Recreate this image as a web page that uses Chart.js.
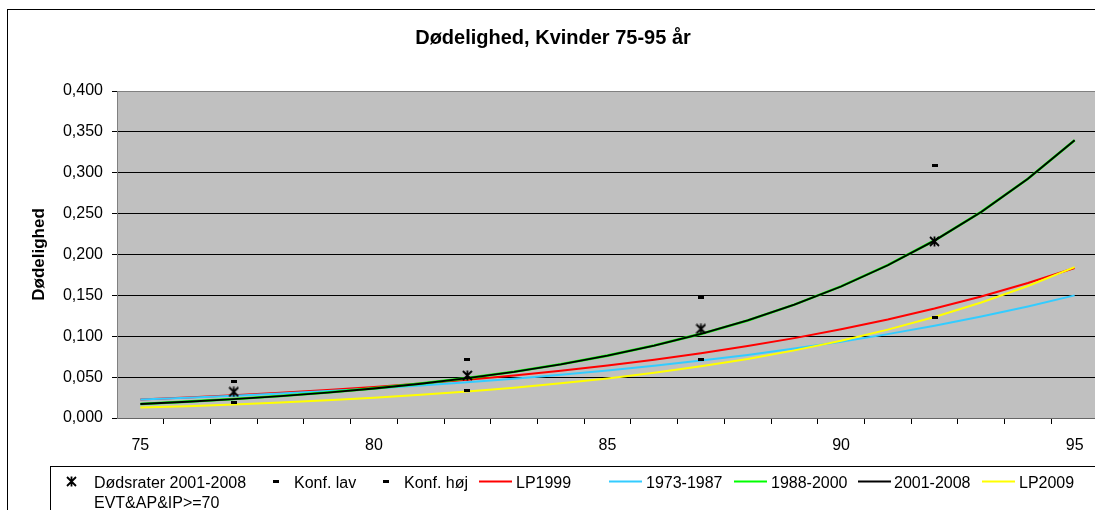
<!DOCTYPE html>
<html>
<head>
<meta charset="utf-8">
<script src="https://cdn.jsdelivr.net/npm/chart.js@4.4.1/dist/chart.umd.min.js"></script>
<style>
  html, body { margin: 0; padding: 0; background: #fff; overflow: hidden; }
  #ramme { position: absolute; left: 7px; top: 9px; width: 1096px; height: 520px; border: 1px solid #000; }
  canvas { display: block; }
</style>
</head>
<body>
<div id="ramme"><canvas id="grafDoedelighed" width="1096" height="520"></canvas></div>
<script>
// Dødelighed, kvinder 75-95 år
const alder = [75, 76, 77, 78, 79, 80, 81, 82, 83, 84, 85, 86, 87, 88, 89, 90, 91, 92, 93, 94, 95];
const alderGrupper = [77, 82, 87, 92];

const doedsrater = [0.032, 0.052, 0.109, 0.216];
const konfLav = [0.019, 0.034, 0.072, 0.123];
const konfHoej = [0.045, 0.072, 0.147, 0.309];

const lp1999 = [0.0225, 0.0250, 0.0278, 0.0308, 0.0342, 0.0380, 0.0422, 0.0469, 0.0521, 0.0578, 0.0642,
  0.0713, 0.0792, 0.0880, 0.0977, 0.1085, 0.1205, 0.1339, 0.1487, 0.1651, 0.1834];
const periode7387 = [0.0225, 0.0247, 0.0272, 0.0299, 0.0329, 0.0362, 0.0398, 0.0437, 0.0481, 0.0528, 0.0581,
  0.0639, 0.0702, 0.0772, 0.0849, 0.0934, 0.1026, 0.1129, 0.1241, 0.1364, 0.1500];
const periode8800 = [0.0172, 0.0200, 0.0232, 0.0269, 0.0312, 0.0362, 0.0420, 0.0488, 0.0566, 0.0657, 0.0763,
  0.0886, 0.1029, 0.1194, 0.1387, 0.1610, 0.1870, 0.2171, 0.2521, 0.2927, 0.3398];
const periode0108 = [0.0171, 0.0199, 0.0231, 0.0268, 0.0311, 0.0361, 0.0419, 0.0487, 0.0565, 0.0656, 0.0762,
  0.0885, 0.1028, 0.1193, 0.1386, 0.1609, 0.1869, 0.2170, 0.2520, 0.2926, 0.3397];
const lp2009 = [0.0127, 0.0145, 0.0166, 0.0190, 0.0217, 0.0248, 0.0283, 0.0324, 0.0370, 0.0424, 0.0484,
  0.0554, 0.0633, 0.0723, 0.0827, 0.0945, 0.1081, 0.1236, 0.1413, 0.1615, 0.1846];

const yTicks = [0, 0.05, 0.1, 0.15, 0.2, 0.25, 0.3, 0.35, 0.4];
const xTickLabels = [75, 80, 85, 90, 95];

const FONT = '"Liberation Sans", Arial, sans-serif';
Chart.defaults.font.family = FONT;
Chart.defaults.color = '#000';

// markører som små billeder, så graf og legende tegnes ens
function stjerne() {
  const c = document.createElement('canvas');
  c.width = 11; c.height = 11;
  const g = c.getContext('2d');
  g.strokeStyle = '#000';
  g.lineWidth = 1.8;
  g.beginPath();
  g.moveTo(1, 1); g.lineTo(10, 10);
  g.moveTo(10, 1); g.lineTo(1, 10);
  g.moveTo(5.5, 0.5); g.lineTo(5.5, 10.5);
  g.stroke();
  return c;
}
function streg() {
  const c = document.createElement('canvas');
  c.width = 6; c.height = 3;
  const g = c.getContext('2d');
  g.fillStyle = '#000';
  g.fillRect(0, 0, 6, 3);
  return c;
}
const stjerneMarker = stjerne();
const stregMarker = streg();

const punkter = (xs, ys) => xs.map((x, i) => ({ x: x, y: ys[i] }));

function punktSerie(label, xs, ys, marker) {
  return {
    label: label,
    data: punkter(xs, ys),
    showLine: false,
    pointStyle: marker,
    pointRadius: 5,
    borderColor: '#000',
    backgroundColor: '#000',
    order: 0
  };
}
function linjeSerie(label, ys, farve, bredde, orden) {
  return {
    label: label,
    data: punkter(alder, ys),
    borderColor: farve,
    backgroundColor: farve,
    borderWidth: bredde,
    pointRadius: 0,
    tension: 0,
    order: orden
  };
}

// grå plotområde
const baggrund = {
  id: 'baggrund',
  beforeDraw(chart) {
    const a = chart.chartArea;
    const ctx = chart.ctx;
    ctx.save();
    ctx.fillStyle = '#C0C0C0';
    ctx.fillRect(a.left, a.top, a.right - a.left, a.bottom - a.top);
    ctx.restore();
  }
};

// legende i ramme under grafen (Excel-stil)
const legendePos = [[63, 86], [268, 286], [378, 396], [471, 508], [601, 638], [726, 763], [850, 886], [974, 1011]];
const legende = {
  id: 'legende',
  afterDraw(chart) {
    const ctx = chart.ctx;
    ctx.save();
    ctx.strokeStyle = '#000';
    ctx.lineWidth = 1;
    ctx.strokeRect(42.5, 456.5, chart.width, 120);
    ctx.font = '16px ' + FONT;
    ctx.fillStyle = '#000';
    ctx.textBaseline = 'alphabetic';
    const midt = 471.5;
    chart.data.datasets.forEach((ds, i) => {
      const [mx, tx] = legendePos[i];
      if (ds.showLine === false) {
        const m = ds.pointStyle;
        ctx.drawImage(m, Math.round(mx - m.width / 2), Math.round(midt - m.height / 2));
      } else {
        ctx.strokeStyle = ds.borderColor;
        ctx.lineWidth = 2;
        ctx.beginPath();
        ctx.moveTo(mx, midt);
        ctx.lineTo(mx + 33, midt);
        ctx.stroke();
      }
      // ombryd lange tekster som i Excel
      const ord = ds.label.split(' ');
      const linjer = [];
      let cur = '';
      ord.forEach(w => {
        const t = cur ? cur + ' ' + w : w;
        if (cur && ctx.measureText(t).width > 160) { linjer.push(cur); cur = w; } else { cur = t; }
      });
      linjer.push(cur);
      linjer.forEach((l, j) => ctx.fillText(l, tx, 477.5 + j * 20));
    });
    ctx.restore();
  }
};

const ctx = document.getElementById('grafDoedelighed').getContext('2d');

const grafDoedelighed = new Chart(ctx, {
  type: 'line',
  data: {
    datasets: [
      punktSerie('Dødsrater 2001-2008 EVT&AP&IP>=70', alderGrupper, doedsrater, stjerneMarker),
      punktSerie('Konf. lav', alderGrupper, konfLav, stregMarker),
      punktSerie('Konf. høj', alderGrupper, konfHoej, stregMarker),
      linjeSerie('LP1999', lp1999, '#FF0000', 2, 5),
      linjeSerie('1973-1987', periode7387, '#33CCFF', 2, 4),
      linjeSerie('1988-2000', periode8800, '#00FF00', 2.6, 3),
      linjeSerie('2001-2008', periode0108, '#000000', 1.8, 2),
      linjeSerie('LP2009', lp2009, '#FFFF00', 2, 1)
    ]
  },
  options: {
    responsive: false,
    animation: false,
    layout: { padding: { left: 0, right: 6, top: 0, bottom: 72 } },
    plugins: {
      legend: { display: false },
      tooltip: { enabled: false },
      title: {
        display: true,
        text: 'Dødelighed, Kvinder 75-95 år',
        color: '#000',
        font: { size: 20, weight: 'bold' },
        padding: { top: 16, bottom: 41 }
      }
    },
    scales: {
      x: {
        type: 'linear',
        min: 74.5,
        max: 95.5,
        afterBuildTicks: (s) => {
          const t = alder.slice(1).map(a => ({ value: a - 0.5 }));
          xTickLabels.forEach(v => t.push({ value: v }));
          s.ticks = t.sort((a, b) => a.value - b.value);
        },
        afterFit: (s) => { s.height = 40; },
        ticks: {
          autoSkip: false,
          maxRotation: 0,
          padding: 12,
          font: { size: 16 },
          callback: (v) => xTickLabels.includes(v) ? String(v) : ''
        },
        grid: {
          drawOnChartArea: false,
          tickLength: 6,
          color: (c) => c.tick && Number.isInteger(c.tick.value) ? 'rgba(0,0,0,0)' : '#000'
        },
        border: { color: '#666666', width: 1 }
      },
      y: {
        min: 0,
        max: 0.4,
        afterBuildTicks: (s) => { s.ticks = yTicks.map(v => ({ value: v })); },
        afterFit: (s) => { s.width = 109; },
        ticks: {
          padding: 9,
          font: { size: 16 },
          callback: (v) => v.toFixed(3).replace('.', ',')
        },
        grid: {
          color: (c) => c.tick && c.tick.value === 0.4 ? '#808080' : '#000',
          tickColor: '#000',
          tickLength: 5
        },
        border: { color: '#808080', width: 1 },
        title: {
          display: true,
          text: 'Dødelighed',
          color: '#000',
          font: { size: 17, weight: 'bold' },
          padding: { top: 21, bottom: 0 }
        }
      }
    }
  },
  plugins: [baggrund, legende]
});
</script>
</body>
</html>
